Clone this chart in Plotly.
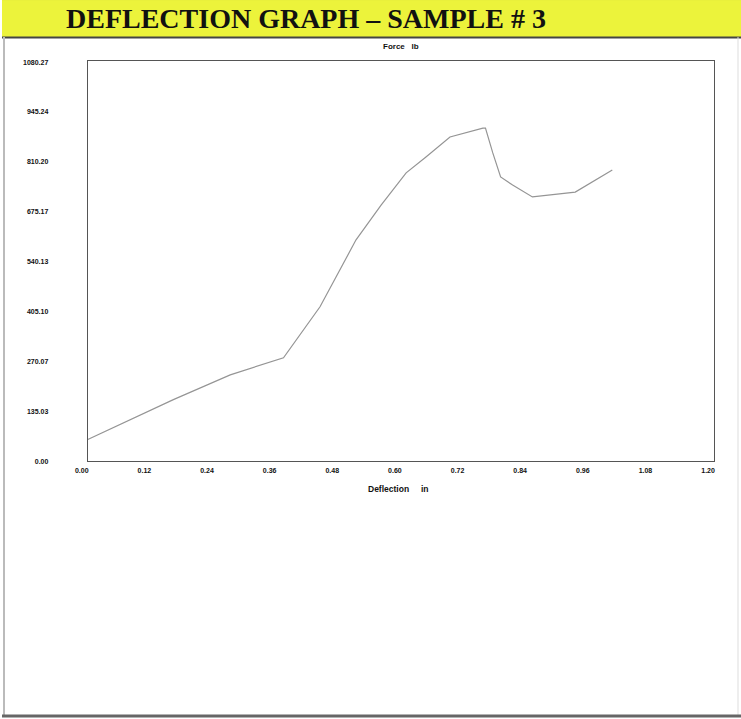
import plotly.graph_objects as go

# Data
deflection_in = [0.0, 0.164, 0.273, 0.375, 0.445, 0.514, 0.562, 0.610, 0.648, 0.694,
                 0.757, 0.762, 0.776, 0.791, 0.814, 0.852, 0.934, 1.005]
force_lb = [57, 165, 232, 278, 416, 597, 691, 778, 821, 875,
            899, 899, 832, 767, 745, 713, 726, 786]

x_tick_vals = [0.0, 0.12, 0.24, 0.36, 0.48, 0.60, 0.72, 0.84, 0.96, 1.08, 1.20]
x_tick_text = ["0.00", "0.12", "0.24", "0.36", "0.48", "0.60", "0.72", "0.84", "0.96", "1.08", "1.20"]
y_tick_vals = [0.0, 135.03, 270.07, 405.10, 540.13, 675.17, 810.20, 945.24, 1080.27]
y_tick_text = ["0.00", "135.03", "270.07", "405.10", "540.13", "675.17", "810.20", "945.24", "1080.27"]

title_text = "DEFLECTION GRAPH \u2013 SAMPLE # 3"
y_title = "Force&nbsp;&nbsp;&nbsp;lb"
x_title = "Deflection&nbsp;&nbsp;&nbsp;&nbsp;&nbsp;in"

W, H = 741, 719          # reference picture size (positions below are given in it)
FW, FH = 753, 727        # figure size
def px_x(p):
    return p / W
def px_y(p):
    return 1 - p / H

fig = go.Figure()
fig.add_trace(go.Scatter(x=deflection_in, y=force_lb, mode="lines",
                         line=dict(color="#959595", width=1.2), showlegend=False))

tickfont = dict(family="Liberation Sans", size=7, color="#111", weight="bold")
fig.update_layout(
    width=FW, height=FH, margin=dict(l=0, r=0, t=0, b=0),
    paper_bgcolor="white", plot_bgcolor="white",
    xaxis=dict(domain=[px_x(86), px_x(714)], range=[0, 1.2], tickvals=x_tick_vals,
               ticktext=x_tick_text, tickfont=tickfont, showgrid=False, zeroline=False,
               showline=True, mirror=True, linecolor="#555", linewidth=1,
               ticks="", ticklabelstandoff=3, ticklabelshift=-6, fixedrange=True),
    yaxis=dict(domain=[px_y(461), px_y(62)], range=[0, 1080.27], tickvals=y_tick_vals,
               ticktext=y_tick_text, tickfont=tickfont, showgrid=False, zeroline=False,
               showline=True, mirror=True, linecolor="#555", linewidth=1,
               ticks="", ticklabelstandoff=37, ticklabelshift=1, fixedrange=True),
    shapes=[
        dict(type="rect", xref="paper", yref="paper", x0=0, x1=1, y0=px_y(38), y1=1,
             fillcolor="#ecf33b", line=dict(width=0), layer="below"),
        dict(type="line", xref="paper", yref="paper", x0=0, x1=1, y0=px_y(38.5), y1=px_y(38.5),
             line=dict(color="#444", width=2)),
        dict(type="line", xref="paper", yref="paper", x0=0, x1=1, y0=px_y(0.5), y1=px_y(0.5),
             line=dict(color="#555", width=1)),
        dict(type="line", xref="paper", yref="paper", x0=px_x(2), x1=px_x(2), y0=px_y(716), y1=px_y(38),
             line=dict(color="#bbb", width=2)),
        dict(type="line", xref="paper", yref="paper", x0=px_x(738), x1=px_x(738), y0=px_y(716), y1=px_y(38),
             line=dict(color="#ddd", width=1)),
        dict(type="line", xref="paper", yref="paper", x0=0, x1=1, y0=px_y(716), y1=px_y(716),
             line=dict(color="#666", width=3)),
    ],
    annotations=[
        dict(text=title_text, xref="paper", yref="paper", x=px_x(62), y=px_y(19),
             xanchor="left", yanchor="middle", showarrow=False,
             font=dict(family="Liberation Serif", size=28, color="#111", weight="bold")),
        dict(text=y_title, xref="paper", yref="paper", x=px_x(400), y=px_y(47),
             xanchor="center", yanchor="middle", showarrow=False,
             font=dict(family="Liberation Sans", size=8, color="#111", weight="bold")),
        dict(text=x_title, xref="paper", yref="paper", x=px_x(397), y=px_y(489),
             xanchor="center", yanchor="middle", showarrow=False,
             font=dict(family="Liberation Sans", size=8.5, color="#111", weight="bold")),
    ],
)

fig.write_html("out.html", config={"displayModeBar": False},
               post_script="document.body.style.margin='0';document.body.style.padding='0';"
                           "document.body.style.overflow='hidden';"
                           "var d=document.getElementsByClassName('plotly-graph-div')[0];"
                           "d.style.position='absolute';d.style.left='-11px';d.style.top='-4px';")
